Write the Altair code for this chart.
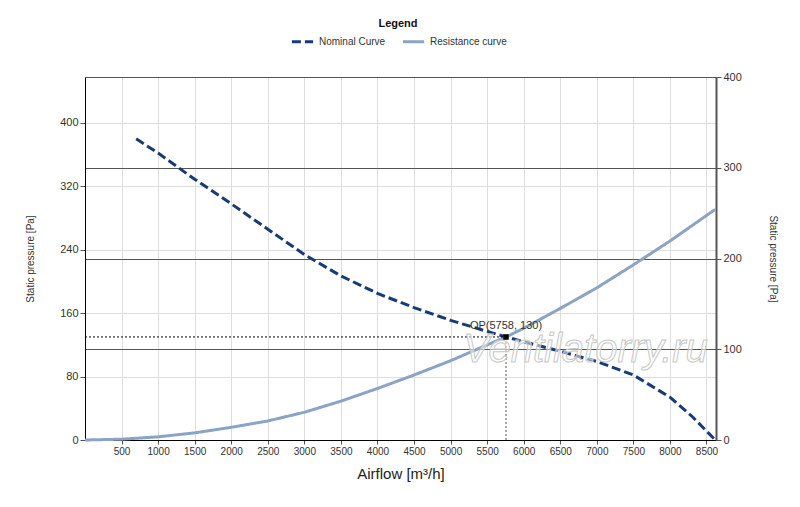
import altair as alt
import pandas as pd

# ---- data ----
nominal_x = [700, 1000, 1500, 2000, 2500, 3000, 3500, 4000, 4500, 5000, 5500, 5758, 6000, 6500, 7000, 7500, 8000, 8300, 8620]
nominal_y = [380, 362, 329, 298, 266, 234, 207, 185, 167, 151, 137, 130, 124, 112, 99, 82, 54, 30, 0]

resist_x = [0, 500, 1000, 1500, 2000, 2500, 3000, 3500, 4000, 4500, 5000, 5500, 5758, 6000, 6500, 7000, 7500, 8000, 8620]
resist_y = [0, 1, 4, 9, 16, 24, 35, 49, 65, 82, 100, 120, 130, 141, 166, 192, 221, 251, 291]

op_x = [5758]
op_y = [130]
op_label = ["OP(5758, 130)"]

x_ticks = [500, 1000, 1500, 2000, 2500, 3000, 3500, 4000, 4500, 5000, 5500, 6000, 6500, 7000, 7500, 8000, 8500]
left_ticks = [0, 80, 160, 240, 320, 400]
right_ticks = [0, 100, 200, 300, 400]
series_names = ["Nominal Curve", "Resistance curve"]

FONT = "Liberation Sans"

curves = pd.DataFrame(
    {"series": [series_names[0]] * len(nominal_x) + [series_names[1]] * len(resist_x),
     "x": nominal_x + resist_x,
     "y": nominal_y + resist_y}
)
op = pd.DataFrame({"x": op_x, "y": op_y, "label": op_label, "x0": [0], "y0": [0]})
wm = pd.DataFrame({"x": [6846], "y": [113], "t": ["Ventilatorry.ru"]})
right_df = pd.DataFrame({"r": [right_ticks[0], right_ticks[-1]]})

xscale = alt.Scale(domain=[0, 8630], nice=False, zero=False)
yscale = alt.Scale(domain=[0, 458], nice=False)

xaxis = alt.Axis(values=x_ticks, format="d", labelOverlap=False, title="Airflow [m³/h]", titleFontSize=15,
                 titleFontWeight="normal", titleColor="#222", titlePadding=10, labelFontSize=10,
                 labelColor="#333", grid=True, gridColor="#dedede", domainColor="#000", tickColor="#555",
                 tickSize=4)
yaxis = alt.Axis(values=left_ticks, title="Static pressure [Pa]", titleFontSize=10, titleFontWeight="normal",
                 titleColor="#333", titlePadding=24, labelFontSize=11, labelColor="#333",
                 grid=True, gridColor="#dedede", domainColor="#000", tickColor="#555", tickSize=5)


def X(f):
    return alt.X(f, axis=xaxis)


def Y(f):
    return alt.Y(f, axis=yaxis)


lines = alt.Chart(curves).mark_line(strokeWidth=3).encode(
    x=alt.X("x:Q", scale=xscale, axis=xaxis),
    y=alt.Y("y:Q", scale=yscale, axis=yaxis),
    color=alt.Color("series:N", scale=alt.Scale(domain=series_names, range=["#173a78", "#8ba3c5"]),
                    legend=alt.Legend(title="Legend", orient="none", legendX=205, legendY=-59,
                                      direction="horizontal", titleOrient="top", titleAnchor="middle",
                                      titleFontSize=11, titleFontWeight="bold", titleColor="#111",
                                      titlePadding=0, labelFontSize=10, labelColor="#333",
                                      symbolType="stroke", symbolStrokeWidth=3, symbolSize=450,
                                      columnPadding=10, labelOffset=4)),
    strokeDash=alt.StrokeDash("series:N", scale=alt.Scale(domain=series_names, range=[[9, 4], [1, 0]]),
                              legend=None),
    order=alt.Order("x:Q"),
)

hline = alt.Chart(op).mark_rule(color="#000", strokeWidth=1, strokeDash=[2, 2]).encode(
    x=X("x0:Q"), x2="x:Q", y=Y("y:Q"))
vline = alt.Chart(op).mark_rule(color="#555", strokeWidth=1, strokeDash=[2, 2]).encode(
    x=X("x:Q"), y=Y("y0:Q"), y2="y:Q")
pt = alt.Chart(op).mark_square(color="#000", size=30, opacity=1).encode(x=X("x:Q"), y=Y("y:Q"))
lbl = alt.Chart(op).mark_text(font=FONT, fontSize=11, color="#333", align="center", baseline="bottom",
                              dx=0, dy=-6).encode(x=X("x:Q"), y=Y("y:Q"), text="label:N")
watermark = alt.Chart(wm).mark_text(font=FONT, fontSize=40, fontStyle="italic", fill="#ffffff",
                                    fillOpacity=0.5, stroke="#c8c8c8", strokeWidth=1).encode(
    x=X("x:Q"), y=Y("y:Q"), text="t:N")

left = alt.layer(lines, hline, vline, watermark, pt, lbl)

right = alt.Chart(right_df).mark_point(opacity=0).encode(
    y=alt.Y("r:Q", scale=alt.Scale(domain=[0, 400], nice=False),
            axis=alt.Axis(orient="right", values=right_ticks, title="Static pressure [Pa]", titleAngle=90,
                          titleFontSize=10, titleFontWeight="normal", titleColor="#333", titlePadding=26,
                          labelFontSize=11, labelColor="#333", grid=True, gridColor="#555",
                          gridWidth=1.2, domainColor="#555", domainWidth=2, tickColor="#555", tickSize=5))
)

chart = alt.layer(left, right).resolve_scale(y="independent").properties(
    width=631, height=363, autosize=alt.AutoSizeParams(type="none"),
    padding={"left": 77, "top": 69, "right": 76, "bottom": 59},
).configure_view(stroke="#000", strokeWidth=1).configure(font=FONT).configure_axis(labelOverlap=False)

chart.save("out.html", embed_options={"renderer": "svg", "actions": False})
